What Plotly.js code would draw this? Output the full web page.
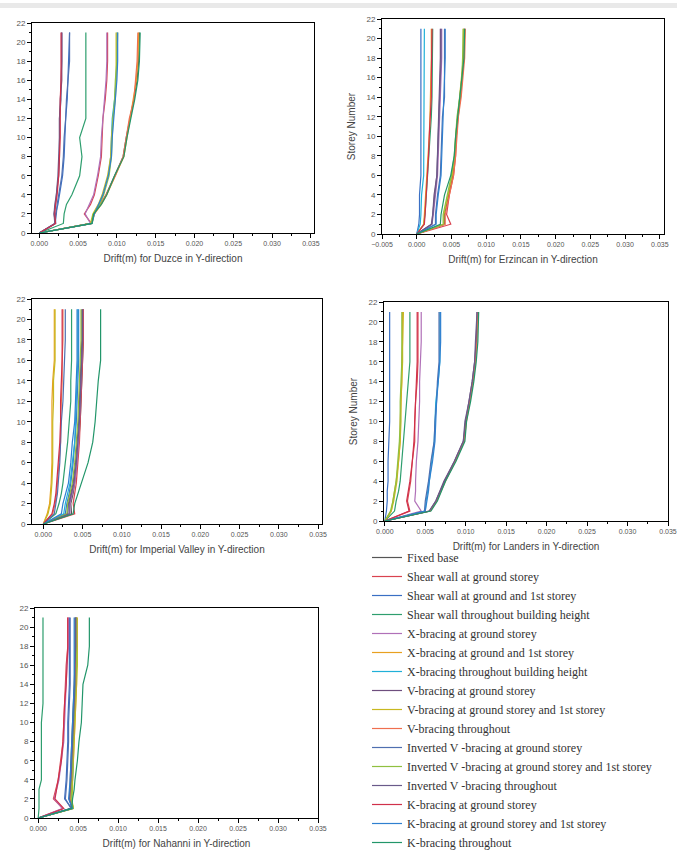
<!DOCTYPE html>
<html>
<head>
<meta charset="utf-8">
<script src="https://cdn.plot.ly/plotly-3.0.1.min.js"></script>
<style>html,body{margin:0;padding:0;background:#fff}#chart{width:677px;height:852px}</style>
</head>
<body>
<div id="chart"></div>
<script>
// ---------------- DATA ----------------
const storeys = [0, 1, 2, 3, 4, 6, 8, 10, 12, 14, 16, 18, 21];

const seriesNames = [
  "Fixed base",
  "Shear wall at ground storey",
  "Shear wall at ground and 1st storey",
  "Shear wall throughout building height",
  "X-bracing at ground storey",
  "X-bracing at ground and 1st storey",
  "X-bracing throughout building height",
  "V-bracing at ground storey",
  "V-bracing at ground storey and 1st storey",
  "V-bracing throughout",
  "Inverted V -bracing at ground storey",
  "Inverted V -bracing at ground storey and 1st storey",
  "Inverted V -bracing throughout",
  "K-bracing at ground storey",
  "K-bracing at ground storey and 1st storey",
  "K-bracing throughout"
];

const seriesColors = [
  "#555555", "#d9434f", "#3a6fc4", "#2e9e6e",
  "#b070b8", "#e8a020", "#20b0d8", "#6e4e7e",
  "#c8b820", "#ef6f4f", "#4f6fb0", "#90c040",
  "#6a5a8a", "#d0304a", "#2f80d0", "#22966a"
];

const panelTitles = [
  "Drift(m) for Duzce in Y-direction",
  "Drift(m) for Erzincan in Y-direction",
  "Drift(m) for Imperial Valley in Y-direction",
  "Drift(m) for Landers in Y-direction",
  "Drift(m) for Nahanni in Y-direction"
];

const duzceDrift = [
  [0, 0.0067, 0.0070, 0.0079, 0.0086, 0.0097, 0.0108, 0.0112, 0.0117, 0.0122, 0.0126, 0.0128, 0.0129],
  [0, 0.0067, 0.0058, 0.0066, 0.0071, 0.0076, 0.0080, 0.0081, 0.0082, 0.0085, 0.0087, 0.0088, 0.0088],
  [0, 0.0021, 0.0021, 0.0024, 0.0026, 0.0030, 0.0032, 0.0033, 0.0034, 0.0036, 0.0037, 0.0038, 0.0039],
  [0, 0.0031, 0.0032, 0.0035, 0.0042, 0.0052, 0.0055, 0.0052, 0.0060, 0.0060, 0.0060, 0.0060, 0.0060],
  [0, 0.0066, 0.0059, 0.0065, 0.0070, 0.0075, 0.0079, 0.0080, 0.0082, 0.0084, 0.0086, 0.0087, 0.0087],
  [0, 0.0068, 0.0071, 0.0080, 0.0087, 0.0098, 0.0109, 0.0113, 0.0117, 0.0121, 0.0125, 0.0127, 0.0128],
  [0, 0.0067, 0.0070, 0.0077, 0.0082, 0.0089, 0.0092, 0.0093, 0.0094, 0.0097, 0.0099, 0.0100, 0.0100],
  [0, 0.0021, 0.0019, 0.0021, 0.0022, 0.0025, 0.0026, 0.0026, 0.0026, 0.0027, 0.0029, 0.0029, 0.0029],
  [0, 0.0066, 0.0069, 0.0076, 0.0081, 0.0088, 0.0092, 0.0093, 0.0095, 0.0098, 0.0099, 0.0099, 0.0099],
  [0, 0.0067, 0.0071, 0.0079, 0.0086, 0.0098, 0.0108, 0.0112, 0.0116, 0.0122, 0.0124, 0.0126, 0.0127],
  [0, 0.0020, 0.0022, 0.0023, 0.0025, 0.0029, 0.0031, 0.0032, 0.0034, 0.0035, 0.0037, 0.0039, 0.0039],
  [0, 0.0067, 0.0070, 0.0078, 0.0083, 0.0090, 0.0093, 0.0094, 0.0095, 0.0097, 0.0098, 0.0100, 0.0101],
  [0, 0.0020, 0.0019, 0.0020, 0.0022, 0.0024, 0.0025, 0.0026, 0.0026, 0.0028, 0.0028, 0.0029, 0.0029],
  [0, 0.0021, 0.0020, 0.0021, 0.0023, 0.0025, 0.0026, 0.0027, 0.0027, 0.0027, 0.0028, 0.0028, 0.0028],
  [0, 0.0068, 0.0071, 0.0077, 0.0082, 0.0089, 0.0093, 0.0094, 0.0096, 0.0098, 0.0100, 0.0101, 0.0101],
  [0, 0.0068, 0.0070, 0.0080, 0.0087, 0.0097, 0.0109, 0.0113, 0.0118, 0.0123, 0.0127, 0.0129, 0.0130]
];

const erzincanDrift = [
  [0, 0.0040, 0.0040, 0.0043, 0.0046, 0.0052, 0.0055, 0.0057, 0.0059, 0.0063, 0.0066, 0.0068, 0.0069],
  [0, 0.0049, 0.0043, 0.0045, 0.0047, 0.0053, 0.0056, 0.0057, 0.0060, 0.0063, 0.0066, 0.0068, 0.0068],
  [0, 0.0003, 0.0004, 0.0004, 0.0004, 0.0006, 0.0006, 0.0006, 0.0006, 0.0006, 0.0006, 0.0006, 0.0006],
  [0, 0.0010, 0.0012, 0.0013, 0.0014, 0.0016, 0.0018, 0.0019, 0.0021, 0.0022, 0.0022, 0.0023, 0.0023],
  [0, 0.0022, 0.0024, 0.0025, 0.0027, 0.0030, 0.0031, 0.0032, 0.0033, 0.0034, 0.0035, 0.0036, 0.0036],
  [0, 0.0010, 0.0011, 0.0012, 0.0013, 0.0015, 0.0017, 0.0018, 0.0019, 0.0020, 0.0021, 0.0021, 0.0021],
  [0, 0.0005, 0.0006, 0.0006, 0.0007, 0.0010, 0.0010, 0.0011, 0.0011, 0.0011, 0.0011, 0.0011, 0.0011],
  [0, 0.0021, 0.0023, 0.0024, 0.0025, 0.0029, 0.0030, 0.0030, 0.0031, 0.0033, 0.0034, 0.0034, 0.0034],
  [0, 0.0039, 0.0039, 0.0042, 0.0045, 0.0051, 0.0055, 0.0056, 0.0059, 0.0062, 0.0065, 0.0067, 0.0067],
  [0, 0.0041, 0.0041, 0.0044, 0.0047, 0.0053, 0.0056, 0.0058, 0.0060, 0.0064, 0.0067, 0.0069, 0.0070],
  [0, 0.0027, 0.0027, 0.0028, 0.0030, 0.0034, 0.0035, 0.0036, 0.0037, 0.0040, 0.0040, 0.0040, 0.0040],
  [0, 0.0038, 0.0038, 0.0041, 0.0044, 0.0050, 0.0054, 0.0056, 0.0058, 0.0062, 0.0065, 0.0066, 0.0067],
  [0, 0.0022, 0.0023, 0.0025, 0.0026, 0.0029, 0.0030, 0.0031, 0.0032, 0.0034, 0.0035, 0.0035, 0.0035],
  [0, 0.0011, 0.0012, 0.0013, 0.0014, 0.0015, 0.0017, 0.0018, 0.0020, 0.0021, 0.0021, 0.0021, 0.0022],
  [0, 0.0028, 0.0028, 0.0029, 0.0031, 0.0035, 0.0036, 0.0037, 0.0038, 0.0040, 0.0041, 0.0041, 0.0041],
  [0, 0.0034, 0.0035, 0.0038, 0.0040, 0.0049, 0.0054, 0.0056, 0.0059, 0.0063, 0.0066, 0.0068, 0.0069]
];

const imperialDrift = [
  [0, 0.0036, 0.0035, 0.0038, 0.0040, 0.0043, 0.0045, 0.0047, 0.0048, 0.0049, 0.0050, 0.0051, 0.0051],
  [0, 0.0040, 0.0038, 0.0040, 0.0042, 0.0044, 0.0046, 0.0047, 0.0048, 0.0049, 0.0050, 0.0051, 0.0051],
  [0, 0.0028, 0.0030, 0.0033, 0.0035, 0.0038, 0.0040, 0.0042, 0.0043, 0.0044, 0.0045, 0.0045, 0.0045],
  [0, 0.0016, 0.0020, 0.0023, 0.0025, 0.0028, 0.0031, 0.0033, 0.0035, 0.0035, 0.0036, 0.0036, 0.0036],
  [0, 0.0034, 0.0034, 0.0037, 0.0040, 0.0043, 0.0045, 0.0046, 0.0047, 0.0048, 0.0049, 0.0050, 0.0050],
  [0, 0.0005, 0.0008, 0.0009, 0.0010, 0.0011, 0.0011, 0.0011, 0.0011, 0.0012, 0.0014, 0.0014, 0.0014],
  [0, 0.0026, 0.0028, 0.0031, 0.0034, 0.0037, 0.0040, 0.0041, 0.0042, 0.0043, 0.0044, 0.0044, 0.0044],
  [0, 0.0031, 0.0032, 0.0035, 0.0038, 0.0041, 0.0043, 0.0045, 0.0046, 0.0047, 0.0048, 0.0049, 0.0049],
  [0, 0.0006, 0.0009, 0.0010, 0.0011, 0.0012, 0.0012, 0.0012, 0.0013, 0.0013, 0.0015, 0.0015, 0.0015],
  [0, 0.0012, 0.0015, 0.0017, 0.0018, 0.0020, 0.0022, 0.0022, 0.0023, 0.0024, 0.0024, 0.0025, 0.0025],
  [0, 0.0014, 0.0016, 0.0018, 0.0019, 0.0021, 0.0022, 0.0023, 0.0025, 0.0026, 0.0027, 0.0028, 0.0028],
  [0, 0.0030, 0.0031, 0.0034, 0.0037, 0.0040, 0.0042, 0.0044, 0.0045, 0.0046, 0.0047, 0.0048, 0.0048],
  [0, 0.0033, 0.0033, 0.0036, 0.0039, 0.0042, 0.0044, 0.0046, 0.0047, 0.0048, 0.0049, 0.0050, 0.0050],
  [0, 0.0011, 0.0014, 0.0016, 0.0017, 0.0019, 0.0021, 0.0022, 0.0022, 0.0023, 0.0024, 0.0024, 0.0024],
  [0, 0.0023, 0.0025, 0.0029, 0.0032, 0.0035, 0.0037, 0.0040, 0.0041, 0.0042, 0.0043, 0.0043, 0.0043],
  [0, 0.0038, 0.0040, 0.0044, 0.0048, 0.0057, 0.0063, 0.0066, 0.0068, 0.0070, 0.0073, 0.0073, 0.0073]
];

const landersDrift = [
  [0, 0.0056, 0.0064, 0.0069, 0.0074, 0.0087, 0.0098, 0.0100, 0.0105, 0.0109, 0.0112, 0.0113, 0.0115],
  [0, 0.0031, 0.0028, 0.0030, 0.0032, 0.0034, 0.0037, 0.0037, 0.0038, 0.0040, 0.0041, 0.0041, 0.0041],
  [0, 0.0002, 0.0003, 0.0003, 0.0004, 0.0004, 0.0005, 0.0006, 0.0006, 0.0006, 0.0006, 0.0006, 0.0006],
  [0, 0.0012, 0.0014, 0.0017, 0.0019, 0.0021, 0.0023, 0.0025, 0.0027, 0.0029, 0.0031, 0.0031, 0.0031],
  [0, 0.0045, 0.0037, 0.0038, 0.0038, 0.0039, 0.0041, 0.0042, 0.0043, 0.0043, 0.0044, 0.0045, 0.0045],
  [0, 0.0008, 0.0010, 0.0012, 0.0014, 0.0017, 0.0019, 0.0019, 0.0020, 0.0021, 0.0021, 0.0022, 0.0022],
  [0, 0.0050, 0.0051, 0.0053, 0.0055, 0.0058, 0.0061, 0.0062, 0.0063, 0.0066, 0.0068, 0.0068, 0.0068],
  [0, 0.0055, 0.0063, 0.0068, 0.0073, 0.0086, 0.0097, 0.0100, 0.0104, 0.0108, 0.0111, 0.0113, 0.0114],
  [0, 0.0008, 0.0011, 0.0013, 0.0015, 0.0017, 0.0019, 0.0020, 0.0020, 0.0021, 0.0022, 0.0022, 0.0023],
  [0, 0.0056, 0.0064, 0.0069, 0.0075, 0.0087, 0.0098, 0.0101, 0.0105, 0.0109, 0.0112, 0.0114, 0.0115],
  [0, 0.0049, 0.0050, 0.0052, 0.0054, 0.0057, 0.0061, 0.0062, 0.0064, 0.0065, 0.0067, 0.0067, 0.0067],
  [0, 0.0007, 0.0010, 0.0012, 0.0014, 0.0016, 0.0018, 0.0019, 0.0019, 0.0020, 0.0021, 0.0021, 0.0021],
  [0, 0.0055, 0.0063, 0.0068, 0.0074, 0.0086, 0.0097, 0.0099, 0.0104, 0.0108, 0.0111, 0.0112, 0.0114],
  [0, 0.0030, 0.0027, 0.0029, 0.0031, 0.0034, 0.0036, 0.0037, 0.0038, 0.0039, 0.0040, 0.0040, 0.0040],
  [0, 0.0050, 0.0052, 0.0054, 0.0055, 0.0059, 0.0062, 0.0063, 0.0064, 0.0066, 0.0068, 0.0069, 0.0069],
  [0, 0.0057, 0.0065, 0.0070, 0.0075, 0.0088, 0.0099, 0.0101, 0.0106, 0.0110, 0.0113, 0.0115, 0.0116]
];

const nahanniDrift = [
  [0, 0.0043, 0.0039, 0.0040, 0.0040, 0.0041, 0.0042, 0.0043, 0.0044, 0.0045, 0.0046, 0.0046, 0.0046],
  [0, 0.0031, 0.0019, 0.0022, 0.0025, 0.0028, 0.0031, 0.0032, 0.0033, 0.0034, 0.0035, 0.0037, 0.0037],
  [0, 0.0042, 0.0033, 0.0034, 0.0035, 0.0036, 0.0037, 0.0037, 0.0038, 0.0039, 0.0039, 0.0039, 0.0039],
  [0, 0.0001, 0.0001, 0.0001, 0.0004, 0.0004, 0.0004, 0.0004, 0.0006, 0.0006, 0.0006, 0.0006, 0.0006],
  [0, 0.0030, 0.0020, 0.0023, 0.0026, 0.0029, 0.0032, 0.0033, 0.0034, 0.0035, 0.0036, 0.0038, 0.0038],
  [0, 0.0044, 0.0041, 0.0042, 0.0043, 0.0044, 0.0045, 0.0046, 0.0047, 0.0048, 0.0048, 0.0048, 0.0048],
  [0, 0.0043, 0.0042, 0.0042, 0.0043, 0.0044, 0.0044, 0.0045, 0.0045, 0.0046, 0.0046, 0.0047, 0.0047],
  [0, 0.0042, 0.0040, 0.0041, 0.0041, 0.0042, 0.0043, 0.0044, 0.0045, 0.0046, 0.0047, 0.0047, 0.0047],
  [0, 0.0044, 0.0042, 0.0043, 0.0043, 0.0044, 0.0045, 0.0046, 0.0047, 0.0048, 0.0049, 0.0049, 0.0049],
  [0, 0.0043, 0.0040, 0.0041, 0.0042, 0.0043, 0.0044, 0.0045, 0.0046, 0.0047, 0.0047, 0.0048, 0.0048],
  [0, 0.0041, 0.0034, 0.0035, 0.0036, 0.0037, 0.0038, 0.0038, 0.0039, 0.0040, 0.0040, 0.0040, 0.0040],
  [0, 0.0044, 0.0041, 0.0042, 0.0042, 0.0043, 0.0044, 0.0045, 0.0046, 0.0047, 0.0048, 0.0048, 0.0048],
  [0, 0.0042, 0.0039, 0.0040, 0.0041, 0.0042, 0.0043, 0.0044, 0.0045, 0.0046, 0.0046, 0.0047, 0.0047],
  [0, 0.0032, 0.0021, 0.0023, 0.0025, 0.0029, 0.0031, 0.0032, 0.0033, 0.0035, 0.0036, 0.0037, 0.0037],
  [0, 0.0043, 0.0038, 0.0039, 0.0040, 0.0041, 0.0042, 0.0043, 0.0044, 0.0045, 0.0045, 0.0045, 0.0045],
  [0, 0.0042, 0.0043, 0.0045, 0.0046, 0.0049, 0.0051, 0.0054, 0.0055, 0.0056, 0.0062, 0.0064, 0.0064]
];

const panelData = [duzceDrift, erzincanDrift, imperialDrift, landersDrift, nahanniDrift];

// ---------------- LAYOUT ----------------
const W = 677, H = 852;
// pixel boxes of each panel frame: [left, right, top, bottom]
const boxes = [
  [32, 314, 23, 233],
  [382, 664, 19, 234],
  [32, 322, 299, 524],
  [384, 668, 302, 521],
  [35, 318, 608, 818]
];
const xRanges = [
  [-0.00094, 0.0354],
  [-0.0050, 0.0356],
  [-0.00144, 0.0355],
  [-0.0001, 0.0350],
  [-0.0004, 0.0350]
];
const showYTitle = [false, true, false, true, false];

const traces = [];
panelData.forEach((pd, p) => {
  const xa = p === 0 ? 'x' : 'x' + (p + 1);
  const ya = p === 0 ? 'y' : 'y' + (p + 1);
  pd.forEach((vals, s) => {
    traces.push({
      type: 'scatter', mode: 'lines',
      x: vals, y: storeys,
      xaxis: xa, yaxis: ya,
      name: seriesNames[s],
      legendgroup: 'g' + s,
      showlegend: p === 0,
      line: {color: seriesColors[s], width: 1.2},
      hoverinfo: 'skip'
    });
  });
});

const tickFontX = {family: 'Liberation Sans, Arial, sans-serif', size: 7, color: '#555'};
const tickFontY = {family: 'Liberation Sans, Arial, sans-serif', size: 8, color: '#555'};
const titleFont = {family: 'Liberation Sans, Arial, sans-serif', size: 10, color: '#444'};

const layout = {
  width: W, height: H,
  margin: {l: 0, r: 0, t: 0, b: 0, autoexpand: false},
  paper_bgcolor: '#fff', plot_bgcolor: '#fff',
  showlegend: true,
  legend: {
    x: 367 / W, xanchor: 'left',
    y: 1 - 543 / H, yanchor: 'top',
    bgcolor: 'rgba(0,0,0,0)',
    font: {family: 'Liberation Serif, Times New Roman, serif', size: 12, color: '#333'},
    tracegroupgap: 0
  },
  shapes: [{
    type: 'rect', xref: 'paper', yref: 'paper',
    x0: 0, x1: 1, y0: 1 - 8 / H, y1: 1 - 3 / H,
    fillcolor: '#e9e9e9', line: {width: 0}, layer: 'below'
  }]
};

boxes.forEach((b, p) => {
  const sfx = p === 0 ? '' : String(p + 1);
  layout['xaxis' + sfx] = {
    domain: [b[0] / W, b[1] / W],
    anchor: 'y' + sfx,
    range: xRanges[p],
    showline: true, linecolor: '#000', linewidth: 1, mirror: true,
    ticks: 'outside', ticklen: 4, tickcolor: '#000', tickwidth: 1,
    tick0: 0, dtick: 0.005, tickformat: '.3f',
    minor: {ticks: 'outside', ticklen: 2, dtick: 0.0025, tick0: 0, tickcolor: '#000', showgrid: false},
    showgrid: false, zeroline: false,
    tickfont: tickFontX,
    title: {text: panelTitles[p], font: titleFont, standoff: 8},
    automargin: false
  };
  layout['yaxis' + sfx] = {
    domain: [1 - b[3] / H, 1 - b[2] / H],
    anchor: 'x' + sfx,
    range: [0, 22],
    showline: true, linecolor: '#000', linewidth: 1, mirror: true,
    ticks: 'outside', ticklen: 4, tickcolor: '#000', tickwidth: 1,
    tick0: 0, dtick: 2,
    minor: {ticks: 'outside', ticklen: 2, dtick: 1, tick0: 0, tickcolor: '#000', showgrid: false},
    showgrid: false, zeroline: false,
    tickfont: tickFontY,
    title: showYTitle[p] ? {text: 'Storey Number', font: titleFont, standoff: 8} : {text: ''},
    automargin: false
  };
});

Plotly.newPlot('chart', traces, layout, {displayModeBar: false, staticPlot: true});
</script>
</body>
</html>
